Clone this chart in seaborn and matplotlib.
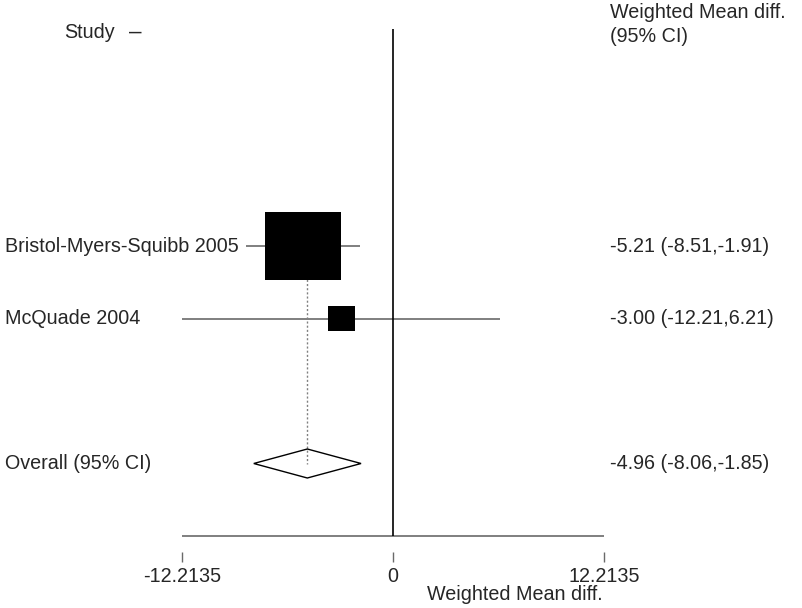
import matplotlib
matplotlib.use("Agg")
import matplotlib.pyplot as plt
import seaborn as sns
import pandas as pd

# ---- data ----
studies = ["Bristol-Myers-Squibb 2005", "McQuade 2004"]
est = [-5.21, -3.00]
ci_low = [-8.51, -12.21]
ci_high = [-1.91, 6.21]
weights = [88.7, 11.3]
overall_label = "Overall (95% CI)"
overall_est = -4.96
overall_low = -8.06
overall_high = -1.85
x_ticks = [-12.2135, 0.0, 12.2135]
tick_labels = ["-12.2135", "0", "12.2135"]
x_title = "Weighted Mean diff."
header_left = "Study"
header_right = ["Weighted Mean diff.", "(95% CI)"]

# ---- layout ----
PX_PER_UNIT = 211 / 12.2135        # horizontal px per data unit
ZERO_PX = 393                      # pixel position of 0
ROW_PX = 72.5                      # vertical px per row
FIRST_ROW_PX = 246
W, H = 802, 608

sns.set_theme(style="white")
plt.rcParams['font.family'] = ['Liberation Sans', 'DejaVu Sans']
FS = 14.2

fig = plt.figure(figsize=(W / 100, H / 100), dpi=100)
ax = fig.add_axes([0, 0, 1, 1])
ax.set_xlim(-ZERO_PX / PX_PER_UNIT, (W - ZERO_PX) / PX_PER_UNIT)
ax.set_ylim((H - FIRST_ROW_PX) / ROW_PX, -FIRST_ROW_PX / ROW_PX)
ax.axis("off")

def px2x(px):
    return (px - ZERO_PX) / PX_PER_UNIT

def px2y(py):
    return (py - FIRST_ROW_PX) / ROW_PX

rows = list(range(len(studies)))
overall_row = len(studies) + 1
axis_row = overall_row + 1

df = pd.DataFrame({"study": studies, "est": est, "lo": ci_low, "hi": ci_high,
                   "w": weights, "row": rows})

gray = "#6a6a6a"

# confidence interval lines
ax.hlines(df["row"], df["lo"], df["hi"], color=gray, lw=1.2, zorder=2)

# dotted line at the overall estimate
ax.vlines(overall_est, rows[0], overall_row, colors="#808080",
          linestyles=(0, (1.5, 1.5)), lw=1.0, zorder=3)

# zero line
ax.vlines(0, px2y(29), axis_row, color="black", lw=1.2, zorder=4)

# weighted squares
smin = 33.75 * min(weights)
smax = 33.75 * max(weights)
rect = [(-1, -0.9), (1, -0.9), (1, 0.9), (-1, 0.9), (-1, -0.9)]
sns.scatterplot(data=df, x="est", y="row", size="w", sizes=(smin, smax),
                size_norm=(min(weights), max(weights)), marker=rect,
                color="black", linewidth=0, legend=False, ax=ax, zorder=5)

# overall diamond
h = 14.5 / ROW_PX
ax.fill([overall_low, overall_est, overall_high, overall_est],
        [overall_row, overall_row - h, overall_row, overall_row + h],
        facecolor="none", edgecolor="black", lw=1.0, zorder=3)

# x axis
ax.hlines(axis_row, x_ticks[0], x_ticks[-1], color=gray, lw=1.2)
ax.vlines(x_ticks, px2y(552), px2y(562), color=gray, lw=1.0)
for xt, lab in zip(x_ticks, tick_labels):
    ax.text(xt, px2y(577), lab, ha="center", va="center", fontsize=FS)
ax.text(px2x(515), px2y(595), x_title, ha="center", va="center", fontsize=FS)

# labels
left_x = px2x(5)
right_x = px2x(610)
for r, s in zip(rows, studies):
    ax.text(left_x, r, s, ha="left", va="center", fontsize=FS)
ax.text(left_x, overall_row, overall_label, ha="left", va="center", fontsize=FS)

stats = [f"{e:.2f} ({l:.2f},{u:.2f})" for e, l, u in zip(est, ci_low, ci_high)]
for r, s in zip(rows, stats):
    ax.text(right_x, r, s, ha="left", va="center", fontsize=FS)
ax.text(right_x, overall_row,
        f"{overall_est:.2f} ({overall_low:.2f},{overall_high:.2f})",
        ha="left", va="center", fontsize=FS)

# headers
ax.text(px2x(64), px2y(32), header_left, ha="left", va="center", fontsize=FS)
ax.text(px2x(129), px2y(32), "\u2013", ha="left", va="center", fontsize=FS + 2)
ax.text(right_x, px2y(13), header_right[0], ha="left", va="center", fontsize=FS)
ax.text(right_x, px2y(36), header_right[1], ha="left", va="center", fontsize=FS)

fig.savefig("out.png", dpi=100, facecolor="white")
